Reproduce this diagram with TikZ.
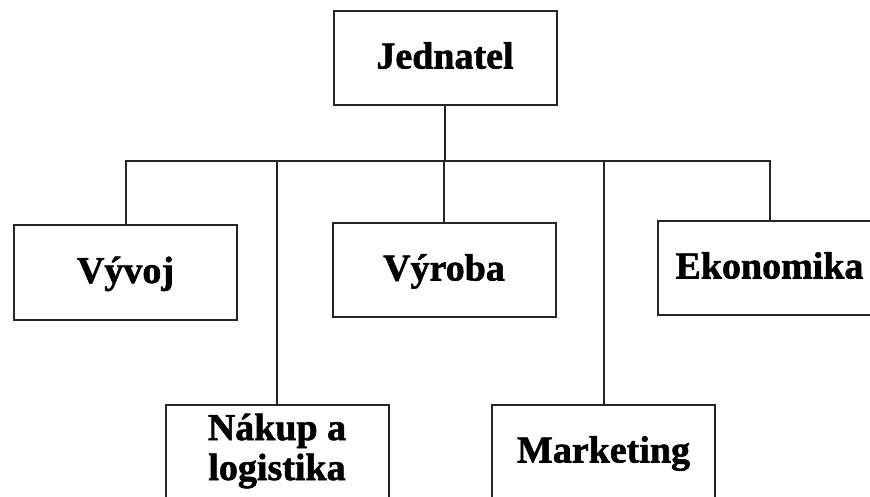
\documentclass[tikz,border=0pt]{standalone}
\usepackage{fontspec}
\setmainfont{Liberation Serif}[BoldFeatures={FakeBold=1.5}]
\begin{document}
\begin{tikzpicture}[x=1pt,y=-1pt,
  orgbox/.style={draw=black!85, line width=2pt, rectangle, inner sep=0pt,
    minimum width=223pt, minimum height=94pt,
    font=\fontsize{38}{40}\selectfont\bfseries,
    text height=21pt, text depth=0pt},
  conn/.style={draw=black!85, line width=2pt}]
\clip (0,0) rectangle (870,497);
\fill[white] (0,0) rectangle (870,497);
\node[orgbox] (J) at (445,58) {Jednatel};
\node[orgbox] (V1) at (125.5,272.5) {Vývoj};
\node[orgbox] (V2) at (444,270) {Výroba};
\node[orgbox] (E) at (769.5,268) {Ekonomika};
\node[orgbox, align=center, text height=57pt, text depth=0pt] (N) at (277,451.5) {Nákup a\\logistika};
\node[orgbox] (M) at (603.5,452) {Marketing};
\coordinate (bus) at (J.south |- 0,161);
\draw[conn] (J.south) -- (bus);
\draw[conn] (V1.north) |- (bus) -| (E.north);
\draw[conn] (V2.north) -- (V2.north |- bus);
\draw[conn] (N.north) -- (N.north |- bus);
\draw[conn] (M.north) -- (M.north |- bus);
\end{tikzpicture}
\end{document}
